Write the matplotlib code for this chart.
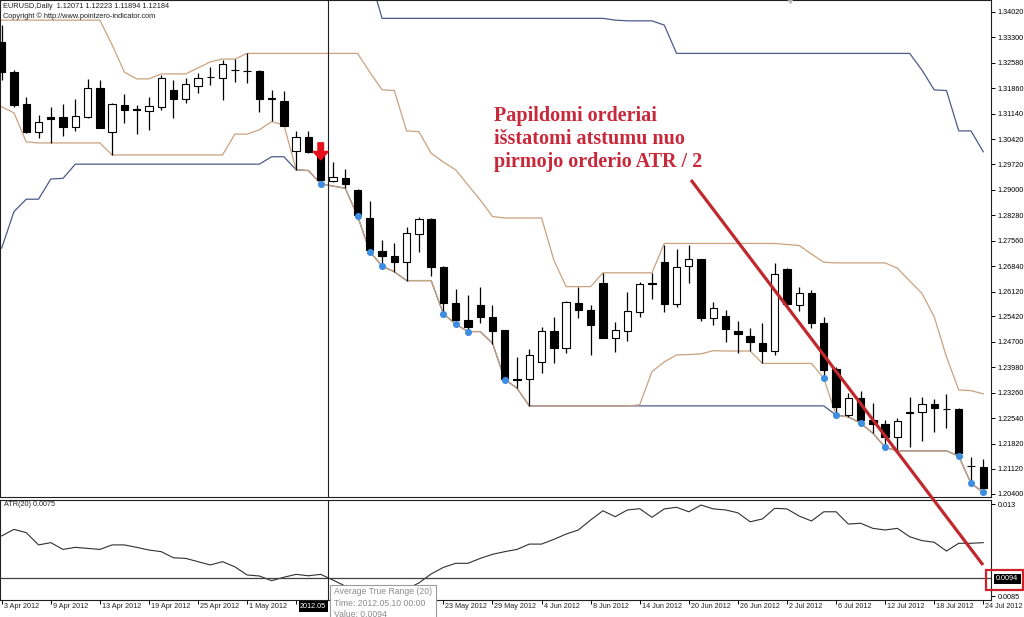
import matplotlib
matplotlib.use('Agg')
import matplotlib.pyplot as plt
import matplotlib.transforms as mtransforms
from matplotlib.patches import Rectangle
from matplotlib.lines import Line2D
import numpy as np

# EURUSD daily candles, 3 Apr 2012 .. 24 Jul 2012 (81 bars)
opens = [1.3317, 1.3232, 1.3142, 1.3063, 1.3104, 1.3105, 1.3077, 1.3105, 1.3187, 1.3063,
         1.3139, 1.3127, 1.3122, 1.3134, 1.3182, 1.3156, 1.3193, 1.3218, 1.3215, 1.3239,
         1.3236, 1.3235, 1.3158, 1.3151, 1.3009, 1.3049, 1.3009, 1.2925, 1.2934, 1.2899,
         1.2821, 1.2727, 1.2713, 1.2696, 1.2774, 1.2816, 1.2682, 1.2580, 1.2532, 1.2574,
         1.2541, 1.2503, 1.2365, 1.2364, 1.2414, 1.2501, 1.2452, 1.2581, 1.2560, 1.2635,
         1.2482, 1.2501, 1.2555, 1.2636, 1.2695, 1.2576, 1.2685, 1.2704, 1.2538, 1.2544,
         1.2501, 1.2487, 1.2466, 1.2444, 1.2675, 1.2574, 1.2607, 1.2524, 1.2392, 1.2263,
         1.2310, 1.2249, 1.2237, 1.2202, 1.2272, 1.2271, 1.2294, 1.2281, 1.2280, 1.2120,
         1.2117]
highs = [1.3365, 1.3238, 1.3162, 1.3111, 1.3134, 1.3142, 1.3156, 1.3213, 1.3210, 1.3145,
         1.3170, 1.3139, 1.3162, 1.3224, 1.3210, 1.3215, 1.3230, 1.3247, 1.3266, 1.3269,
         1.3285, 1.3238, 1.3182, 1.3179, 1.3066, 1.3066, 1.3021, 1.2978, 1.2958, 1.2901,
         1.2869, 1.2758, 1.2750, 1.2795, 1.2822, 1.2819, 1.2684, 1.2618, 1.2602, 1.2624,
         1.2574, 1.2504, 1.2428, 1.2449, 1.2513, 1.2541, 1.2584, 1.2626, 1.2574, 1.2665,
         1.2527, 1.2610, 1.2640, 1.2665, 1.2744, 1.2732, 1.2744, 1.2705, 1.2583, 1.2560,
         1.2530, 1.2508, 1.2524, 1.2694, 1.2679, 1.2626, 1.2616, 1.2539, 1.2400, 1.2325,
         1.2331, 1.2296, 1.2249, 1.2254, 1.2315, 1.2315, 1.2308, 1.2322, 1.2283, 1.2145,
         1.2138]
lows = [1.3210, 1.3134, 1.3060, 1.3046, 1.3032, 1.3052, 1.3066, 1.3102, 1.3074, 1.2998,
        1.3088, 1.3057, 1.3069, 1.3125, 1.3102, 1.3145, 1.3173, 1.3196, 1.3153, 1.3204,
        1.3201, 1.3119, 1.3094, 1.3080, 1.2956, 1.3004, 1.2916, 1.2922, 1.2904, 1.2826,
        1.2725, 1.2684, 1.2668, 1.2643, 1.2725, 1.2657, 1.2549, 1.2520, 1.2499, 1.2524,
        1.2463, 1.2362, 1.2339, 1.2289, 1.2383, 1.2409, 1.2439, 1.2536, 1.2433, 1.2481,
        1.2442, 1.2472, 1.2541, 1.2590, 1.2555, 1.2569, 1.2635, 1.2530, 1.2518, 1.2470,
        1.2439, 1.2445, 1.2409, 1.2433, 1.2571, 1.2558, 1.2508, 1.2367, 1.2263, 1.2258,
        1.2240, 1.2212, 1.2172, 1.2164, 1.2174, 1.2190, 1.2216, 1.2226, 1.2147, 1.2070,
        1.2045]
closes = [1.3232, 1.3139, 1.3063, 1.3091, 1.3101, 1.3077, 1.3108, 1.3187, 1.3074, 1.3142,
          1.3125, 1.3124, 1.3136, 1.3215, 1.3156, 1.3199, 1.3215, 1.3217, 1.3255, 1.3237,
          1.3234, 1.3156, 1.3155, 1.3080, 1.3049, 1.3006, 1.2927, 1.2936, 1.2915, 1.2828,
          1.2729, 1.2713, 1.2696, 1.2777, 1.2816, 1.2682, 1.2579, 1.2532, 1.2513, 1.2539,
          1.2501, 1.2364, 1.2363, 1.2433, 1.2501, 1.2452, 1.2583, 1.2560, 1.2518, 1.2482,
          1.2503, 1.2557, 1.2633, 1.2634, 1.2576, 1.2682, 1.2704, 1.2538, 1.2566, 1.2505,
          1.2492, 1.2469, 1.2444, 1.2661, 1.2576, 1.2607, 1.2524, 1.2390, 1.2287, 1.2310,
          1.2249, 1.2238, 1.2202, 1.2247, 1.2270, 1.2294, 1.2282, 1.2279, 1.2157, 1.2118,
          1.2058]

# short channel (orange) and long channel (blue)
upper_short = [1.3379] * 9 + [1.3309, 1.3232, 1.3213, 1.3213, 1.3227, 1.3227, 1.3227, 1.3244,
               1.3261, 1.3269, 1.3269] + [1.3285] * 10 + \
              [1.3232, 1.3182, 1.3180, 1.3066, 1.3064, 1.3003, 1.2978, 1.2956, 1.2913, 1.2871,
               1.2824] + [1.2820] * 4 + [1.2701] + [1.2626] * 3 + [1.2665] * 5 + [1.2748] * 10 + \
              [1.2745, 1.2742, 1.2718, 1.2695] + [1.2693] * 5 + \
              [1.2678, 1.2642, 1.2607, 1.2541, 1.2428, 1.2334, 1.2332, 1.2323]
lower_short = [1.3134, 1.3117, 1.3035] + [1.3032] * 6 + [1.2998] * 10 + \
              [1.3057, 1.3057, 1.3069, 1.3092, 1.3083, 1.2956, 1.2954, 1.2917, 1.2910, 1.2904,
               1.2826, 1.2725, 1.2684, 1.2668] + [1.2643] * 3 + \
              [1.2549, 1.2520, 1.2499, 1.2499, 1.2466, 1.2364, 1.2339] + [1.2289] * 9 + \
              [1.2292, 1.2386, 1.2413, 1.2433, 1.2434, 1.2436, 1.2445] + [1.2444] * 3 + \
              [1.2409] * 5 + [1.2367, 1.2263, 1.2258, 1.2240, 1.2212, 1.2172] + [1.2162] * 5 + \
              [1.2147, 1.2070, 1.2045]
upper_long_start = 30
upper_long = [1.3504] + [1.3384] * 19 + [1.3379] + [1.3377] * 3 + [1.3365] + [1.3285] * 20 + \
             [1.3238, 1.3182, 1.3180, 1.3066, 1.3066, 1.3007]
lower_long = [1.2735, 1.2838, 1.2873, 1.2873, 1.2930, 1.2932] + [1.2972] * 16 + [1.2993, 1.2993] + \
             [1.2956, 1.2954, 1.2917, 1.2910, 1.2904, 1.2826, 1.2725, 1.2684, 1.2668, 1.2643,
              1.2643, 1.2643, 1.2549, 1.2520, 1.2499, 1.2499, 1.2466, 1.2364, 1.2339, 1.2289] + \
             [1.2289] * 24 + \
             [1.2263, 1.2258, 1.2240, 1.2212, 1.2172] + [1.2162] * 5 + [1.2147, 1.2070, 1.2045]

touch_bars = [26, 29, 30, 31, 36, 37, 38, 41, 67, 68, 70, 72, 78, 79, 80]
signal_bar = 26
crosshair_bar = 26.6

atr = [0.01144, 0.01176, 0.01160, 0.01100, 0.01111, 0.01078, 0.01088, 0.01083, 0.01078, 0.01100,
       0.01100, 0.01088, 0.01075, 0.01067, 0.01037, 0.01034, 0.01018, 0.01002, 0.01018, 0.00993,
       0.00953, 0.00948, 0.00925, 0.00942, 0.00956, 0.00949, 0.00956, 0.00928, 0.00899, 0.00884,
       0.00875, 0.00870, 0.00875, 0.00884, 0.00914, 0.00958, 0.00990, 0.01010, 0.01010, 0.01034,
       0.01054, 0.01067, 0.01078, 0.01104, 0.01104, 0.01127, 0.01153, 0.01173, 0.01222, 0.01267,
       0.01238, 0.01271, 0.01277, 0.01235, 0.01276, 0.01284, 0.01262, 0.01295, 0.01276, 0.01271,
       0.01257, 0.01213, 0.01227, 0.01279, 0.01276, 0.01241, 0.01217, 0.01262, 0.01262, 0.01202,
       0.01206, 0.01181, 0.01173, 0.01181, 0.01140, 0.01121, 0.01113, 0.01070, 0.01108, 0.01108,
       0.01111]
atr_cursor = 0.0094

price_ticks = [1.34020, 1.33300, 1.32580, 1.31860, 1.31140, 1.30420, 1.29720, 1.29000, 1.28280,
               1.27560, 1.26840, 1.26120, 1.25420, 1.24700, 1.23980, 1.23260, 1.22540, 1.21820,
               1.21120, 1.20400]
atr_ticks = [0.013, 0.0085]
date_labels = ['3 Apr 2012', '9 Apr 2012', '13 Apr 2012', '19 Apr 2012', '25 Apr 2012',
               '1 May 2012', '7 May 2012', '11 May 2012', '17 May 2012', '23 May 2012',
               '29 May 2012', '4 Jun 2012', '8 Jun 2012', '14 Jun 2012', '20 Jun 2012',
               '26 Jun 2012', '2 Jul 2012', '6 Jul 2012', '12 Jul 2012', '18 Jul 2012',
               '24 Jul 2012']
# labels hidden behind the cursor label and the tooltip
hidden_labels = ['7 May 2012', '11 May 2012', '17 May 2012']

ORANGE = '#c9a27e'
BLUE = '#4d5a8a'
DOT = '#3d8ee0'
RED = '#c8283a'
SMALL = 'Liberation Sans'

W, H = 1024, 617
fig = plt.figure(figsize=(W / 100, H / 100), dpi=100)
fig.patch.set_facecolor('white')


def fx(px):
    return px / W


def fy(py):
    return 1 - py / H


ax = fig.add_axes([0, fy(497), fx(991), 497 / H])
ax2 = fig.add_axes([0, fy(600), fx(991), 100 / H])

x = np.arange(len(opens))
o = np.array(opens)
c = np.array(closes)
h = np.array(highs)
l = np.array(lows)

# channels
ax.plot(x, upper_short, color=ORANGE, lw=0.9, zorder=1.5)
ax.plot(x, lower_long, color=BLUE, lw=0.9, zorder=1.4)
ax.plot(x, lower_short, color=ORANGE, lw=0.9, zorder=1.5)
ax.plot(x[upper_long_start:], upper_long, color=BLUE, lw=0.9, zorder=1.4)

# candles
ax.vlines(x, l, h, color='black', lw=0.9, zorder=2)
body_bottom = np.minimum(o, c)
body_height = np.maximum(np.abs(c - o), 0.00012)
face = np.where(c >= o, 'white', 'black')
ax.bar(x, body_height, bottom=body_bottom, width=0.6, color=face, edgecolor='black',
       linewidth=0.8, zorder=3)

ax.scatter([x[i] for i in touch_bars], [lows[i] for i in touch_bars], s=26, color=DOT,
           zorder=4, linewidths=0)

# signal arrow
tip_tr = mtransforms.offset_copy(ax.transData, fig=fig, y=-13, units='dots')
ax.annotate('', xy=(signal_bar, highs[signal_bar]), xycoords=tip_tr,
            xytext=(0, 17), textcoords='offset pixels',
            arrowprops=dict(arrowstyle='simple,head_length=0.6,head_width=1.1,tail_width=0.4',
                            color='#e5101a', shrinkA=0, shrinkB=0, mutation_scale=10),
            zorder=6)

ax.set_xlim(-0.139, 80.63)
ax.set_ylim(1.20315, 1.34359)
ax.yaxis.tick_right()
ax.set_yticks(price_ticks)
ax.set_yticklabels(['%.5f' % p for p in price_ticks], fontsize=5.2, family=SMALL)
ax.tick_params(axis='y', direction='out', length=3, width=0.7, pad=1.5)
ax.set_xticks([])
for s in ax.spines.values():
    s.set_linewidth(0.8)
    s.set_color('#202020')

ax.axvline(crosshair_bar, color='#202020', lw=0.8, zorder=5)
ax.plot([0.797], [1.0], marker='v', ms=5, color='#b5b5b5', transform=ax.transAxes,
        clip_on=False, zorder=7)

ax.text(0.003, 1 - 6 / 497, 'EURUSD,Daily  1.12071 1.12223 1.11894 1.12184', transform=ax.transAxes,
        fontsize=5.3, family=SMALL, va='center', ha='left', color='#202020')
ax.text(0.003, 1 - 16 / 497, 'Copyright \u00a9 http://www.pointzero-indicator.com', transform=ax.transAxes,
        fontsize=5.3, family=SMALL, va='center', ha='left', color='#202020')

# ATR panel
ax2.plot(x, atr, color='#303030', lw=0.8, zorder=2)
ax2.axhline(atr_cursor, color='#404040', lw=0.9, zorder=3)
ax2.axvline(crosshair_bar, color='#202020', lw=0.8, zorder=5)
ax2.set_xlim(-0.139, 80.63)
ax2.set_ylim(0.008306, 0.013196)
ax2.yaxis.tick_right()
ax2.set_yticks(atr_ticks)
ax2.set_yticklabels(['0.013', '0.0085'], fontsize=5.2, family=SMALL)
ax2.tick_params(axis='y', direction='out', length=3, width=0.7, pad=1.5)
tick_pos = list(range(0, len(opens), 4))
ax2.set_xticks(tick_pos)
ax2.tick_params(axis='x', direction='out', length=3, width=0.7, labelbottom=False)
for s in ax2.spines.values():
    s.set_linewidth(0.8)
    s.set_color('#202020')
ax2.text(0.004, 1 - 5 / 100, 'ATR(20) 0.0075', transform=ax2.transAxes, fontsize=5.2,
         family=SMALL, va='center', ha='left', color='#202020')

lbl_tr = mtransforms.offset_copy(
    mtransforms.blended_transform_factory(ax2.transData, ax2.transAxes),
    fig=fig, x=2, y=-7, units='dots')
for pos, lab in zip(tick_pos, date_labels):
    if lab in hidden_labels:
        continue
    ax2.text(pos, 0, lab, transform=lbl_tr, fontsize=5.2, family=SMALL, va='center',
             ha='left', color='#202020', clip_on=False)

# cursor labels and tooltip
fig.add_artist(Rectangle((fx(299), fy(612)), fx(29), 11 / H, transform=fig.transFigure,
                         facecolor='black', edgecolor='none', zorder=10))
fig.text(fx(300), fy(606.5), '2012.05', fontsize=5.2, family=SMALL, color='white',
         va='center', ha='left', zorder=11)
fig.add_artist(Rectangle((fx(330), fy(625)), fx(106), 40 / H, transform=fig.transFigure,
                         facecolor='white', edgecolor='#9a9a9a', lw=0.8, zorder=10))
for yy, line in [(592, 'Average True Range (20)'), (603.5, 'Time: 2012.05.10 00:00'),
                 (614.5, 'Value: 0.0094')]:
    fig.text(fx(334), fy(yy), line, fontsize=6.2, family=SMALL, color='#8c8c8c',
             va='center', ha='left', zorder=11)

fig.add_artist(Rectangle((fx(994), fy(583.5)), fx(26.5), 10 / H, transform=fig.transFigure,
                         facecolor='black', edgecolor='none', zorder=10))
fig.text(fx(1007), fy(578.5), '0.0094', fontsize=5.2, family=SMALL, color='white',
         va='center', ha='center', zorder=11)
fig.add_artist(Rectangle((fx(986), fy(589.5)), fx(37), 20 / H, transform=fig.transFigure,
                         facecolor='none', edgecolor='#cc2229', lw=1.6, zorder=12))

# annotation: trend line and note
fig.add_artist(Line2D([fx(691), fx(983)], [fy(180), fy(565)], transform=fig.transFigure,
                      color='#c0282d', lw=2.3, zorder=9, solid_capstyle='butt'))
for yy, line in [(121.5, 'Papildomi orderiai'), (144, 'išstatomi atstumu nuo'),
                 (166.5, 'pirmojo orderio ATR / 2')]:
    fig.text(fx(494), fy(yy), line, fontsize=14.5, family='Liberation Serif', weight='bold',
             color=RED, va='baseline', ha='left', zorder=9)

fig.savefig('out.png', dpi=100, facecolor='white')
